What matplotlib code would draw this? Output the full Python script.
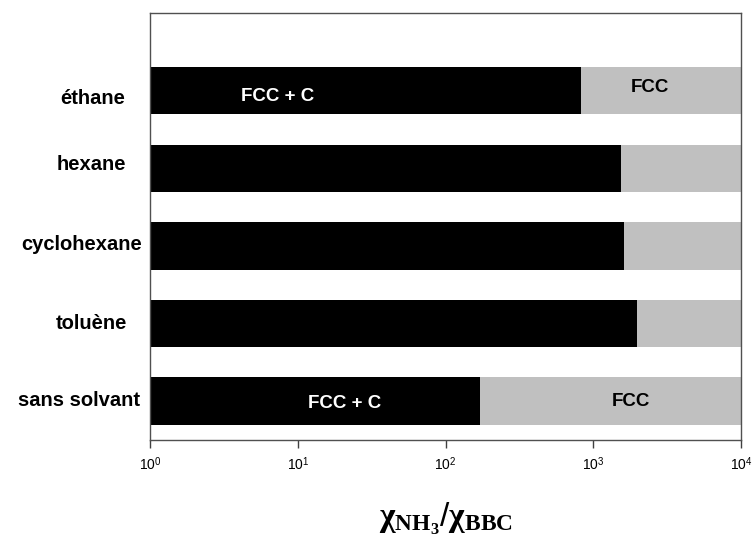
import matplotlib
matplotlib.use("Agg")
import matplotlib.pyplot as plt
import matplotlib.transforms as mtransforms
import numpy as np

plt.rcParams['font.family'] = ['Liberation Sans', 'DejaVu Sans']
plt.rcParams['mathtext.fontset'] = 'custom'
plt.rcParams['mathtext.rm'] = 'Liberation Sans'
plt.rcParams['mathtext.it'] = 'Liberation Serif'
plt.rcParams['mathtext.bf'] = 'Liberation Serif:bold'

# solvants (bas -> haut)
solvants = ["sans solvant", "toluène", "cyclohexane", "hexane", "éthane"]
# limite FCC + C / FCC
limite = [171, 1990, 1620, 1545, 826]
x_max = 1e4
x_min = 1.0

# etiquettes dans les barres: (indice, x, texte, couleur)
etiquettes = [(4, 7.3, "FCC + C", "white"), (4, 2420, "FCC", "black"),
              (0, 20.9, "FCC + C", "white"), (0, 1800, "FCC", "black")]

fig = plt.figure(figsize=(7.53, 5.43), dpi=100)
ax = fig.add_axes([0.1992, 0.1897, 0.7849, 0.7864])

y = np.arange(len(solvants))
h = 0.61
ax.barh(y, np.array(limite) - x_min, left=x_min, height=h, color='black')
ax.barh(y, x_max - np.array(limite), left=limite, height=h, color='#c0c0c0')

# petits decalages des textes (en unites de y)
dy_bar = {(4, "FCC + C"): -0.075, (4, "FCC"): 0.045, (0, "FCC + C"): -0.035, (0, "FCC"): -0.005}
for i, xv, txt, col in etiquettes:
    ax.text(xv, y[i] + dy_bar[(i, txt)], txt, color=col, fontsize=13.5, fontweight='bold',
            ha='center', va='center')

ax.set_xscale('log')
ax.set_xlim(x_min, x_max)
ax.set_ylim(-0.5, 5.0)
ax.set_xticks([1, 10, 100, 1000, 10000])
ax.set_xticklabels([r'$10^{0}$', r'$10^{1}$', r'$10^{2}$', r'$10^{3}$', r'$10^{4}$'], fontsize=10)
ax.xaxis.set_minor_locator(matplotlib.ticker.NullLocator())
ax.tick_params(axis='x', direction='out', length=6, width=1, color='#404040', pad=5)
ax.set_yticks([])

# noms des solvants, places comme dans l'original
trans = mtransforms.blended_transform_factory(ax.transAxes, ax.transData)
lab_x = [-0.017, -0.039, -0.014, -0.040, -0.042]
lab_dy = [0.015, 0.0, 0.02, 0.05, -0.105]
for yi, nom, lx, ly in zip(y, solvants, lab_x, lab_dy):
    ax.text(lx, yi + ly, nom, transform=trans, fontsize=14.5, fontweight='bold',
            ha='right', va='center')

for s in ax.spines.values():
    s.set_linewidth(1)
    s.set_color('#505050')

ax.set_xlabel(r'$\mathbf{\chi}_{\mathbf{NH_3}}/\mathbf{\chi}_{\mathbf{BBC}}$', fontsize=24, labelpad=20)

fig.savefig("out.png", dpi=100)
